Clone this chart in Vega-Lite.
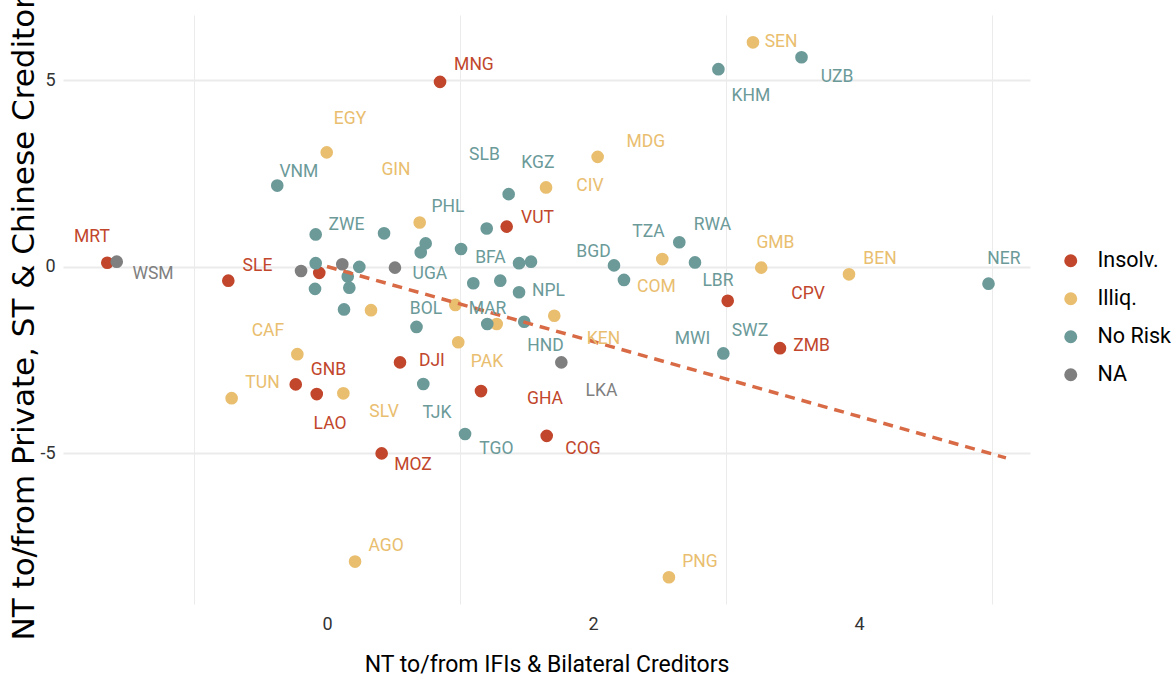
{
  "$schema": "https://vega.github.io/schema/vega-lite/v6.json",
  "width": 967,
  "height": 589,
  "autosize": "none",
  "padding": {"left": 63, "top": 15, "right": 143, "bottom": 78},
  "background": "white",
  "config": {
    "view": {"stroke": null},
    "font": "Roboto"
  },
  "datasets": {
    "points": [
      {"x": -1.652, "y": 0.10, "risk": "Insolv."},
      {"x": -0.742, "y": -0.38, "risk": "Insolv."},
      {"x": -0.058, "y": -0.17, "risk": "Insolv."},
      {"x": 0.850, "y": 4.95, "risk": "Insolv."},
      {"x": 1.351, "y": 1.07, "risk": "Insolv."},
      {"x": 0.549, "y": -2.57, "risk": "Insolv."},
      {"x": -0.235, "y": -3.16, "risk": "Insolv."},
      {"x": -0.077, "y": -3.42, "risk": "Insolv."},
      {"x": 1.158, "y": -3.34, "risk": "Insolv."},
      {"x": 1.652, "y": -4.54, "risk": "Insolv."},
      {"x": 0.411, "y": -5.01, "risk": "Insolv."},
      {"x": 3.013, "y": -0.92, "risk": "Insolv."},
      {"x": 3.406, "y": -2.19, "risk": "Insolv."},
      {"x": 3.203, "y": 6.01, "risk": "Illiq."},
      {"x": -0.002, "y": 3.06, "risk": "Illiq."},
      {"x": 2.035, "y": 2.94, "risk": "Illiq."},
      {"x": 1.647, "y": 2.12, "risk": "Illiq."},
      {"x": 0.697, "y": 1.18, "risk": "Illiq."},
      {"x": 0.331, "y": -1.17, "risk": "Illiq."},
      {"x": 0.965, "y": -1.03, "risk": "Illiq."},
      {"x": 1.276, "y": -1.54, "risk": "Illiq."},
      {"x": 1.709, "y": -1.32, "risk": "Illiq."},
      {"x": 0.987, "y": -2.03, "risk": "Illiq."},
      {"x": 2.521, "y": 0.20, "risk": "Illiq."},
      {"x": 3.265, "y": -0.03, "risk": "Illiq."},
      {"x": 3.925, "y": -0.21, "risk": "Illiq."},
      {"x": -0.223, "y": -2.35, "risk": "Illiq."},
      {"x": -0.717, "y": -3.53, "risk": "Illiq."},
      {"x": 0.123, "y": -3.40, "risk": "Illiq."},
      {"x": 0.211, "y": -7.91, "risk": "Illiq."},
      {"x": 2.571, "y": -8.33, "risk": "Illiq."},
      {"x": -0.374, "y": 2.17, "risk": "No Risk"},
      {"x": -0.085, "y": 0.86, "risk": "No Risk"},
      {"x": 0.429, "y": 0.89, "risk": "No Risk"},
      {"x": 0.705, "y": 0.38, "risk": "No Risk"},
      {"x": 0.742, "y": 0.62, "risk": "No Risk"},
      {"x": 1.008, "y": 0.47, "risk": "No Risk"},
      {"x": -0.085, "y": 0.09, "risk": "No Risk"},
      {"x": -0.090, "y": -0.60, "risk": "No Risk"},
      {"x": 0.156, "y": -0.27, "risk": "No Risk"},
      {"x": 0.168, "y": -0.57, "risk": "No Risk"},
      {"x": 0.243, "y": -0.01, "risk": "No Risk"},
      {"x": 0.128, "y": -1.15, "risk": "No Risk"},
      {"x": 0.673, "y": -1.62, "risk": "No Risk"},
      {"x": 1.100, "y": -0.45, "risk": "No Risk"},
      {"x": 1.303, "y": -0.38, "risk": "No Risk"},
      {"x": 1.444, "y": 0.09, "risk": "No Risk"},
      {"x": 1.534, "y": 0.13, "risk": "No Risk"},
      {"x": 1.444, "y": -0.69, "risk": "No Risk"},
      {"x": 1.205, "y": -1.54, "risk": "No Risk"},
      {"x": 1.483, "y": -1.48, "risk": "No Risk"},
      {"x": 2.158, "y": 0.03, "risk": "No Risk"},
      {"x": 2.233, "y": -0.36, "risk": "No Risk"},
      {"x": 2.649, "y": 0.65, "risk": "No Risk"},
      {"x": 2.767, "y": 0.11, "risk": "No Risk"},
      {"x": 2.980, "y": -2.33, "risk": "No Risk"},
      {"x": 0.724, "y": -3.15, "risk": "No Risk"},
      {"x": 1.038, "y": -4.49, "risk": "No Risk"},
      {"x": 1.366, "y": 1.94, "risk": "No Risk"},
      {"x": 1.201, "y": 1.02, "risk": "No Risk"},
      {"x": 2.943, "y": 5.29, "risk": "No Risk"},
      {"x": 3.568, "y": 5.61, "risk": "No Risk"},
      {"x": 4.974, "y": -0.46, "risk": "No Risk"},
      {"x": -1.581, "y": 0.13, "risk": "NA"},
      {"x": -0.195, "y": -0.12, "risk": "NA"},
      {"x": 0.115, "y": 0.06, "risk": "NA"},
      {"x": 0.511, "y": -0.03, "risk": "NA"},
      {"x": 1.762, "y": -2.57, "risk": "NA"}
    ],
    "labels": [
      {"code": "MRT", "lx": -1.767, "ly": 0.78, "risk": "Insolv."},
      {"code": "SLE", "lx": -0.523, "ly": 0.01, "risk": "Insolv."},
      {"code": "MNG", "lx": 1.105, "ly": 5.40, "risk": "Insolv."},
      {"code": "VUT", "lx": 1.583, "ly": 1.30, "risk": "Insolv."},
      {"code": "DJI", "lx": 0.789, "ly": -2.53, "risk": "Insolv."},
      {"code": "GNB", "lx": 0.011, "ly": -2.77, "risk": "Insolv."},
      {"code": "LAO", "lx": 0.023, "ly": -4.22, "risk": "Insolv."},
      {"code": "GHA", "lx": 1.639, "ly": -3.55, "risk": "Insolv."},
      {"code": "COG", "lx": 1.925, "ly": -4.89, "risk": "Insolv."},
      {"code": "MOZ", "lx": 0.647, "ly": -5.33, "risk": "Insolv."},
      {"code": "CPV", "lx": 3.617, "ly": -0.74, "risk": "Insolv."},
      {"code": "ZMB", "lx": 3.643, "ly": -2.13, "risk": "Insolv."},
      {"code": "SEN", "lx": 3.414, "ly": 6.01, "risk": "Illiq."},
      {"code": "EGY", "lx": 0.173, "ly": 3.95, "risk": "Illiq."},
      {"code": "MDG", "lx": 2.398, "ly": 3.35, "risk": "Illiq."},
      {"code": "GIN", "lx": 0.519, "ly": 2.59, "risk": "Illiq."},
      {"code": "CIV", "lx": 1.977, "ly": 2.16, "risk": "Illiq."},
      {"code": "COM", "lx": 2.477, "ly": -0.55, "risk": "Illiq."},
      {"code": "GMB", "lx": 3.372, "ly": 0.63, "risk": "Illiq."},
      {"code": "BEN", "lx": 4.158, "ly": 0.21, "risk": "Illiq."},
      {"code": "CAF", "lx": -0.444, "ly": -1.74, "risk": "Illiq."},
      {"code": "TUN", "lx": -0.485, "ly": -3.12, "risk": "Illiq."},
      {"code": "SLV", "lx": 0.429, "ly": -3.90, "risk": "Illiq."},
      {"code": "PAK", "lx": 1.203, "ly": -2.56, "risk": "Illiq."},
      {"code": "KEN", "lx": 2.079, "ly": -1.94, "risk": "Illiq."},
      {"code": "AGO", "lx": 0.444, "ly": -7.48, "risk": "Illiq."},
      {"code": "PNG", "lx": 2.805, "ly": -7.92, "risk": "Illiq."},
      {"code": "VNM", "lx": -0.211, "ly": 2.53, "risk": "No Risk"},
      {"code": "ZWE", "lx": 0.147, "ly": 1.11, "risk": "No Risk"},
      {"code": "SLB", "lx": 1.184, "ly": 2.99, "risk": "No Risk"},
      {"code": "KGZ", "lx": 1.586, "ly": 2.77, "risk": "No Risk"},
      {"code": "PHL", "lx": 0.910, "ly": 1.60, "risk": "No Risk"},
      {"code": "UGA", "lx": 0.774, "ly": -0.19, "risk": "No Risk"},
      {"code": "BFA", "lx": 1.229, "ly": 0.23, "risk": "No Risk"},
      {"code": "BOL", "lx": 0.744, "ly": -1.13, "risk": "No Risk"},
      {"code": "MAR", "lx": 1.207, "ly": -1.14, "risk": "No Risk"},
      {"code": "NPL", "lx": 1.665, "ly": -0.66, "risk": "No Risk"},
      {"code": "HND", "lx": 1.643, "ly": -2.14, "risk": "No Risk"},
      {"code": "BGD", "lx": 2.004, "ly": 0.39, "risk": "No Risk"},
      {"code": "TZA", "lx": 2.417, "ly": 0.92, "risk": "No Risk"},
      {"code": "RWA", "lx": 2.898, "ly": 1.11, "risk": "No Risk"},
      {"code": "LBR", "lx": 2.940, "ly": -0.38, "risk": "No Risk"},
      {"code": "MWI", "lx": 2.748, "ly": -1.94, "risk": "No Risk"},
      {"code": "SWZ", "lx": 3.180, "ly": -1.73, "risk": "No Risk"},
      {"code": "TJK", "lx": 0.827, "ly": -3.93, "risk": "No Risk"},
      {"code": "TGO", "lx": 1.274, "ly": -4.89, "risk": "No Risk"},
      {"code": "KHM", "lx": 3.188, "ly": 4.58, "risk": "No Risk"},
      {"code": "UZB", "lx": 3.835, "ly": 5.08, "risk": "No Risk"},
      {"code": "NER", "lx": 5.090, "ly": 0.20, "risk": "No Risk"},
      {"code": "WSM", "lx": -1.308, "ly": -0.21, "risk": "NA"},
      {"code": "LKA", "lx": 2.064, "ly": -3.35, "risk": "NA"}
    ],
    "fit": [
      {"x": 0.0, "y": 0.0},
      {"x": 5.105, "y": -5.13}
    ]
  },
  "layer": [
    {
      "mark": {"type": "rule", "color": "black", "strokeWidth": 1.6, "strokeDash": [7, 4]},
      "encoding": {"y": {"datum": 0}}
    },
    {
      "mark": {"type": "rule", "color": "black", "strokeWidth": 1.6, "strokeDash": [9, 6]},
      "encoding": {"x": {"datum": 0}}
    },
    {
      "data": {"name": "points"},
      "mark": {"type": "circle", "size": 160, "opacity": 1},
      "encoding": {
        "x": {
          "field": "x", "type": "quantitative",
          "scale": {"domain": [-1.985, 5.286], "nice": false, "zero": false},
          "axis": {
            "title": "NT to/from IFIs & Bilateral Creditors",
            "values": [-1, 0, 1, 2, 3, 4, 5],
            "labelExpr": "datum.value % 2 == 0 ? '' + datum.value : ''",
            "grid": true,
            "gridWidth": 1,
            "gridColor": {"condition": {"test": "datum.value % 2 != 0", "value": "#EBEBEB"}, "value": "rgba(0,0,0,0)"},
            "ticks": false, "tickSize": 0, "domain": false,
            "labelFontSize": 18, "labelColor": "#333333", "labelPadding": 11,
            "titleFontSize": 23, "titleFontWeight": "normal", "titleColor": "black",
            "titleBaseline": "alphabetic", "titleY": 67
          }
        },
        "y": {
          "field": "y", "type": "quantitative",
          "scale": {"domain": [-9.048, 6.743], "nice": false, "zero": false},
          "axis": {
            "title": "NT to/from Private, ST & Chinese Creditors",
            "values": [-5, 0, 5],
            "labelExpr": "'' + datum.value",
            "grid": true, "gridWidth": 2, "gridColor": "#EBEBEB",
            "ticks": false, "tickSize": 0, "domain": false,
            "labelFontSize": 18, "labelColor": "#333333", "labelPadding": 8,
            "titleFont": "DejaVu Sans", "titleFontSize": 31, "titleFontWeight": "normal", "titleColor": "black",
            "titleAngle": -90, "titleAlign": "left", "titleBaseline": "middle",
            "titleX": -39, "titleY": 625
          }
        },
        "color": {
          "field": "risk", "type": "nominal",
          "scale": {"domain": ["Insolv.", "Illiq.", "No Risk", "NA"], "range": ["#C1462B", "#E9BE6F", "#6B9A99", "#7F7F7F"]},
          "legend": {
            "title": null, "orient": "none", "legendX": 997, "legendY": 235,
            "padding": 0, "rowPadding": 15, "labelOffset": 16,
            "labelFontSize": 21.5, "labelColor": "black", "labelLimit": 200,
            "symbolType": "circle", "symbolSize": 170, "symbolStrokeWidth": 0, "symbolOpacity": 1
          }
        }
      }
    },
    {
      "data": {"name": "fit"},
      "mark": {"type": "line", "color": "#D86B45", "strokeWidth": 3.5, "strokeDash": [10, 7]},
      "encoding": {
        "x": {"field": "x", "type": "quantitative"},
        "y": {"field": "y", "type": "quantitative"}
      }
    },
    {
      "data": {"name": "labels"},
      "mark": {"type": "text", "fontSize": 17.5, "align": "center", "baseline": "middle"},
      "encoding": {
        "x": {"field": "lx", "type": "quantitative"},
        "y": {"field": "ly", "type": "quantitative"},
        "text": {"field": "code"},
        "color": {"field": "risk", "type": "nominal", "legend": null}
      }
    }
  ]
}
